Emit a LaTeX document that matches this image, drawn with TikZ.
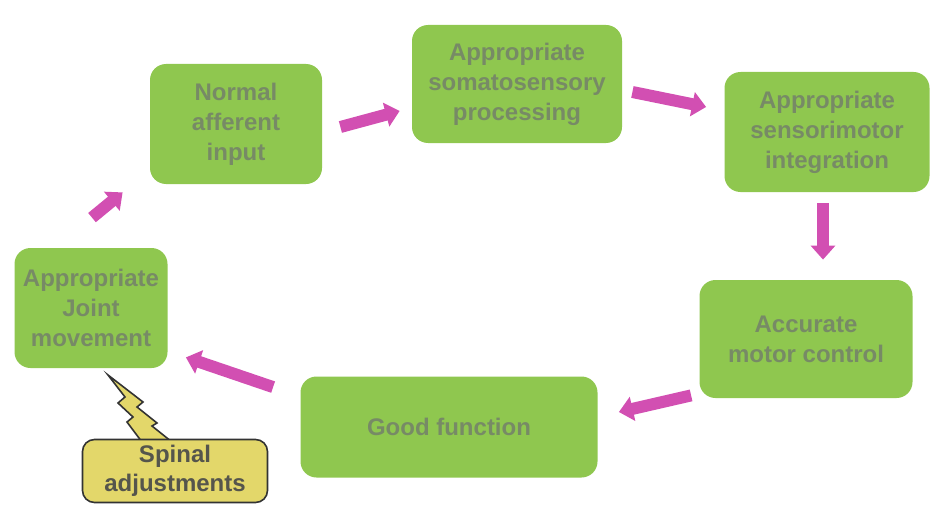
\documentclass[tikz,border=0pt]{standalone}
\usepackage{fontspec}
\setmainfont{Liberation Sans}
\usetikzlibrary{arrows.meta,calc}

\definecolor{stagegreen}{HTML}{8FC74F}
\definecolor{stagetext}{HTML}{778A66}
\definecolor{flowpink}{HTML}{D24FB2}
\definecolor{noteyellow}{HTML}{E3D76A}
\definecolor{notetext}{HTML}{55554C}

\begin{document}
\begin{tikzpicture}[
    x = 0.5pt, y = -0.5pt,
    stage/.style = {rectangle,
      rounded corners = 8pt,
      fill = stagegreen,
      text = stagetext,
      inner sep = 0pt,
      align = center,
      font = \fontsize{12}{15}\selectfont\bfseries},
    note/.style = {rectangle,
      rounded corners = 6pt,
      draw = black!80,
      line width = 0.8pt,
      fill = noteyellow,
      text = notetext,
      inner sep = 0pt,
      align = center,
      font = \fontsize{12}{14.5}\selectfont\bfseries},
    flow/.style = {draw = flowpink,
      line width = 6pt,
      -{Triangle[width = 12pt, length = 7pt]}}
    ]

    \useasboundingbox (0, 0) rectangle (930, 519);

    \node at (236, 124) [stage, minimum width = 86pt, minimum height = 60pt, name = afferent] {Normal\\afferent\\input};
    \node at (517, 84) [stage, minimum width = 105pt, minimum height = 59pt, name = somato] {Appropriate\\somatosensory\\processing};
    \node at (827, 132) [stage, minimum width = 102.5pt, minimum height = 60pt, name = sensori] {Appropriate\\sensorimotor\\integration};
    \node at (806, 339) [stage, minimum width = 106.5pt, minimum height = 59pt, name = motor] {Accurate\\motor control};
    \node at (449, 427) [stage, minimum width = 148.5pt, minimum height = 50.5pt, name = good] {Good function};
    \node at (91, 308) [stage, minimum width = 76.5pt, minimum height = 60pt, name = joint] {Appropriate\\Joint\\movement};

    \filldraw [fill = noteyellow, draw = black!80, line width = 0.8pt, line join = miter]
    (108, 375) -- (143, 402) -- (137, 407) -- (157, 423) -- (152, 426) -- (172, 442)
    -- (142, 442) -- (127, 422) -- (133, 417) -- (118, 403) -- (125, 397) -- cycle;
    \node at (175, 471) [note, minimum width = 92.5pt, minimum height = 31.5pt, name = spinal] {Spinal\\adjustments};

    \draw [flow] ($(afferent.east) + (18, 3)$) to ($(somato.west) + (-12, 27)$);
    \draw [flow] ($(somato.east) + (10, 8)$) to ($(sensori.west) + (-18, -25)$);
    \draw [flow] ($(sensori.south) + (-4, 11)$) to ($(motor.north) + (17, -20)$);
    \draw [flow] ($(motor.south west) + (-8, -3)$) to ($(good.east) + (21, -15)$);
    \draw [flow] ($(good.north west) + (-27, 11)$) to ($(joint.south east) + (18, -11)$);
    \draw [flow] ($(joint.north) + (1, -30)$) to ($(afferent.south west) + (-27, 8)$);
  \end{tikzpicture}
\end{document}
